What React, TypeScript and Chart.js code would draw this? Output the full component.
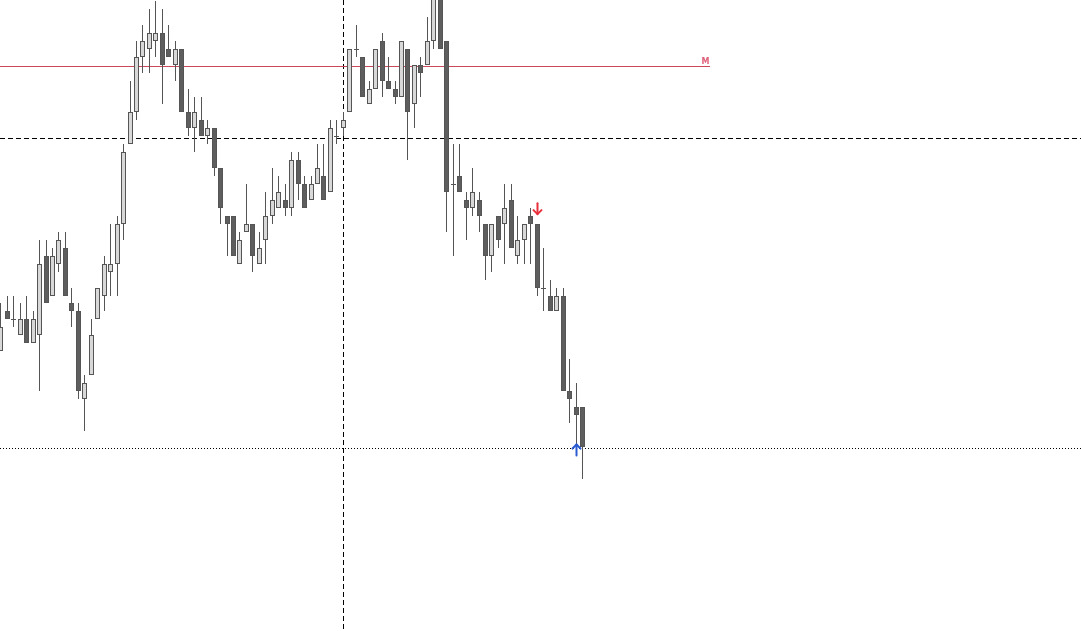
import React, { useEffect, useRef } from "react";
import { Chart, registerables } from "chart.js";

Chart.register(...registerables);

// Candle data (price in points)
const openP = [56, 61, 60, 58, 60, 57, 58, 68, 63, 67, 69, 62, 61, 50, 53, 60, 63, 66, 67, 72, 82, 86, 93, 94, 95, 96, 94, 92, 94, 86, 84, 85, 83, 84, 79, 73, 73, 67, 71, 72, 67, 70, 73, 74, 75, 74, 80, 77, 75, 77, 78, 76, 83, 84, 86, 94, 93, 87, 89, 95, 90, 89, 88, 94, 87, 92, 92, 95, 102, 95, 77, 78, 75, 74, 75, 72, 68, 73, 72, 75, 68, 70, 73, 72, 64, 63, 61, 63, 51, 49, 49];
const highP = [62, 63, 63, 62, 63, 61, 70, 70, 69, 71, 71, 64, 62, 53, 60, 64, 68, 72, 73, 82, 90, 95, 97, 99, 100, 99, 97, 95, 94, 89, 88, 88, 85, 84, 79, 73, 73, 71, 77, 72, 71, 76, 79, 78, 77, 81, 81, 78, 78, 82, 82, 85, 85, 86, 94, 97, 93, 90, 94, 96, 93, 90, 95, 94, 92, 93, 98, 103, 103, 95, 82, 82, 76, 79, 76, 72, 72, 73, 77, 77, 73, 72, 74, 72, 69, 65, 64, 64, 55, 52, 49];
const lowP = [56, 60, 59, 58, 57, 57, 51, 62, 63, 66, 63, 59, 50, 46, 53, 60, 61, 63, 63, 70, 82, 85, 91, 91, 93, 87, 93, 90, 86, 83, 81, 83, 82, 78, 72, 68, 68, 67, 71, 66, 67, 67, 72, 74, 73, 73, 75, 74, 75, 77, 75, 76, 82, 83, 86, 93, 88, 87, 89, 88, 89, 87, 88, 80, 84, 88, 92, 94, 94, 71, 68, 76, 70, 73, 71, 65, 66, 69, 67, 69, 67, 67, 67, 63, 61, 61, 61, 51, 47, 44, 40];
const closeP = [59, 60, 60, 60, 57, 60, 67, 62, 68, 70, 63, 61, 51, 52, 58, 64, 67, 67, 72, 81, 86, 93, 95, 96, 96, 92, 93, 94, 86, 84, 86, 83, 84, 79, 74, 72, 68, 70, 72, 68, 69, 73, 75, 76, 74, 80, 77, 74, 77, 79, 75, 84, 83, 85, 94, 94, 88, 89, 94, 90, 89, 88, 95, 86, 92, 91, 95, 102, 94, 76, 77, 76, 74, 76, 73, 68, 72, 70, 74, 69, 70, 72, 72, 64, 64, 61, 63, 51, 50, 48, 44];

// Reference levels
const dashedLevel = 82.8;
const dottedLevel = 43.85;
const maLevel = 91.8;
const maLabel = "M";
const maEndIndex = 109.8;
const verticalIndex = 53;

// Signal arrows: [index, price]
const sellArrows = [[83, 73.1]];
const buyArrows = [[89, 44.4]];

// Visible window
const xMin = -0.046;
const xMax = 167.21;
const yMin = 20.854;
const yMax = 100.126;

const candlePlugin = {
  id: "candles",
  afterDatasetsDraw(chart: any) {
    const { ctx } = chart;
    const xs = chart.scales.x;
    const ys = chart.scales.y;
    const area = chart.chartArea;
    ctx.save();

    // horizontal dashed level
    const yd = Math.round(ys.getPixelForValue(dashedLevel)) + 0.5;
    ctx.strokeStyle = "#000";
    ctx.lineWidth = 1;
    ctx.setLineDash([5, 3]);
    ctx.beginPath();
    ctx.moveTo(area.left, yd);
    ctx.lineTo(area.right, yd);
    ctx.stroke();

    // vertical dashed
    const xv = Math.round(xs.getPixelForValue(verticalIndex)) + 0.5;
    ctx.beginPath();
    ctx.moveTo(xv, area.top);
    ctx.lineTo(xv, area.bottom);
    ctx.stroke();

    // dotted level
    const yo = Math.round(ys.getPixelForValue(dottedLevel)) + 0.5;
    ctx.setLineDash([1, 2]);
    ctx.beginPath();
    ctx.moveTo(area.left, yo);
    ctx.lineTo(area.right, yo);
    ctx.stroke();
    ctx.setLineDash([]);

    // MA level line
    const ym = Math.round(ys.getPixelForValue(maLevel)) + 0.5;
    const xmEnd = xs.getPixelForValue(maEndIndex);
    ctx.strokeStyle = "#c9485b";
    ctx.beginPath();
    ctx.moveTo(area.left, ym);
    ctx.lineTo(xmEnd, ym);
    ctx.stroke();
    ctx.fillStyle = "#e0607a";
    ctx.font = "bold 8px 'DejaVu Sans', sans-serif";
    ctx.textAlign = "right";
    ctx.textBaseline = "bottom";
    ctx.fillText(maLabel, xmEnd - 0.5, ym - 1);

    // candles
    for (let i = 0; i < openP.length; i++) {
      const cx = Math.round(xs.getPixelForValue(i));
      const o = ys.getPixelForValue(openP[i]);
      const c = ys.getPixelForValue(closeP[i]);
      const h = ys.getPixelForValue(highP[i]);
      const l = ys.getPixelForValue(lowP[i]);
      const bull = closeP[i] > openP[i];
      ctx.strokeStyle = "#555";
      ctx.lineWidth = 1;
      ctx.beginPath();
      ctx.moveTo(cx + 0.5, Math.round(h));
      ctx.lineTo(cx + 0.5, Math.round(l));
      ctx.stroke();
      const top = Math.round(Math.min(o, c));
      const bot = Math.round(Math.max(o, c));
      if (bot - top < 1) {
        ctx.beginPath();
        ctx.moveTo(cx - 2, top + 0.5);
        ctx.lineTo(cx + 3, top + 0.5);
        ctx.stroke();
        continue;
      }
      ctx.fillStyle = bull ? "#d8d8d8" : "#5e5e5e";
      ctx.fillRect(cx - 2, top, 5, bot - top);
      ctx.strokeRect(cx - 1.5, top + 0.5, 4, bot - top - 1);
    }

    // arrows (thin line arrows)
    const drawArrow = (idx: number, price: number, down: boolean, color: string) => {
      const ax = Math.round(xs.getPixelForValue(idx)) + 0.5;
      const ay = ys.getPixelForValue(price);
      ctx.strokeStyle = color;
      ctx.lineWidth = 2;
      ctx.lineCap = "round";
      ctx.lineJoin = "round";
      const dir = down ? -1 : 1;
      ctx.beginPath();
      ctx.moveTo(ax, ay + dir * 1);
      ctx.lineTo(ax, ay + dir * 12);
      ctx.stroke();
      ctx.beginPath();
      ctx.moveTo(ax - 4, ay + dir * 5);
      ctx.lineTo(ax, ay + dir * 1);
      ctx.lineTo(ax + 4, ay + dir * 5);
      ctx.stroke();
    };
    sellArrows.forEach(([i, p]) => drawArrow(i, p, true, "#e8303c"));
    buyArrows.forEach(([i, p]) => drawArrow(i, p, false, "#2a5bd0"));

    ctx.restore();
  },
};

export default function App() {
  const ref = useRef<HTMLCanvasElement | null>(null);
  useEffect(() => {
    document.body.style.margin = "0";
    const canvas = ref.current!;
    const chart = new Chart(canvas, {
      type: "scatter",
      data: {
        datasets: [
          {
            data: closeP.map((v, i) => ({ x: i, y: v })),
            pointRadius: 0,
            showLine: false,
          },
        ],
      },
      options: {
        animation: false,
        responsive: false,
        layout: { padding: 0 },
        plugins: { legend: { display: false }, tooltip: { enabled: false } },
        scales: {
          x: { type: "linear", min: xMin, max: xMax, display: false },
          y: { type: "linear", min: yMin, max: yMax, display: false },
        },
      },
      plugins: [candlePlugin],
    });
    return () => chart.destroy();
  }, []);
  return (
    <div style={{ width: 1081, height: 631, background: "#fff" }}>
      <canvas ref={ref} width={1081} height={631} style={{ display: "block" }} />
    </div>
  );
}
